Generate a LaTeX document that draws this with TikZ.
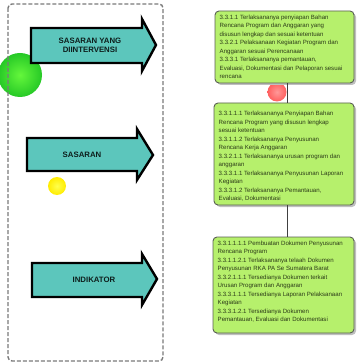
\documentclass[tikz,border=0pt]{standalone}
\usepackage{fontspec}
\setmainfont{Liberation Sans}
\usetikzlibrary{calc}
\definecolor{teal}{HTML}{5CC6BC}
\definecolor{lime}{HTML}{B6F06C}
\definecolor{limeedge}{HTML}{5A5F55}
\definecolor{boxtext}{HTML}{2B3A18}
\definecolor{dashgray}{HTML}{7A7A7A}
\tikzset{
  frame/.style={draw=dashgray, line width=1.4pt, dash pattern=on 4pt off 2pt, rounded corners=4pt},
  bigarrow/.style={draw=black, line width=2.4pt, fill=teal, line join=miter},
  arrowlabel/.style={font=\fontsize{7.8pt}{9.2pt}\selectfont\bfseries, text=black!85!teal, align=center},
  infobox/.style={draw=limeedge, line width=0.9pt, fill=lime, rounded corners=4pt},
  infoshadow/.style={fill=black!25, rounded corners=4pt},
  infotext/.style={font=\fontsize{6.1pt}{8.5pt}\selectfont, text=boxtext, align=left, anchor=north west, inner sep=0pt},
  link/.style={draw=black!75, line width=0.9pt}
}
\begin{document}
\begin{tikzpicture}[x=1pt, y=-1pt]
\useasboundingbox (0,0) rectangle (358,363);

% decorative blobs
\shade[inner color=green!45!lime, outer color=green!75!black!85] (20,75) circle (22);
\shade[inner color=yellow!70, outer color=yellow!85!orange] (57,186) circle (9);
\shade[inner color=red!30!pink, outer color=red!65!pink, opacity=0.85] (277,92) circle (9.5);

% dashed frame on the left
\draw[frame] (8,4) rectangle (163,361);

% the three arrows
\draw[bigarrow] (31,28) -- (142,28) -- (142,19) -- (156,45) -- (142,71) -- (142,63) -- (31,63) -- cycle;
\node[arrowlabel] (a1) at (90,45.5) {SASARAN YANG\\DIINTERVENSI};

\draw[bigarrow] (27,138) -- (137,138) -- (137,129) -- (153,155) -- (137,180) -- (137,171) -- (27,171) -- cycle;
\node[arrowlabel] (a2) at (82,155) {SASARAN};

\draw[bigarrow] (32,263) -- (142,263) -- (142,254) -- (157,279) -- (142,305) -- (142,297) -- (32,297) -- cycle;
\node[arrowlabel] (a3) at (94,279.5) {INDIKATOR};

% right column boxes
\fill[infoshadow] (217,13) rectangle (356,85);
\draw[infobox] (215,11) rectangle (354,83);
\coordinate (b1) at (287,83);
\node[infotext] (t1) at (219.5,14.5) {3.3.1.1 Terlaksananya penyiapan Bahan\\Rencana Program dan Anggaran yang\\disusun lengkap dan sesuai ketentuan\\3.3.2.1 Pelaksanaan Kegiatan Program dan\\Anggaran sesuai Perencanaan\\3.3.3.1 Terlaksananya pemantauan,\\Evaluasi, Dokumentasi dan Pelaporan sesuai\\rencana};

\fill[infoshadow] (216,105) rectangle (356,207);
\draw[infobox] (214,103) rectangle (354,205);
\coordinate (b2top) at (287,103);
\coordinate (b2) at (287,205);
\node[infotext] (t2) at (218.5,111) {3.3.1.1.1 Terlaksananya Penyiapan Bahan\\Rencana Program yang disusun lengkap\\sesuai ketentuan\\3.3.1.1.2 Terlaksananya Penyusunan\\Rencana Kerja Anggaran\\3.3.2.1.1 Terlaksananya urusan program dan\\anggaran\\3.3.3.1.1 Terlaksananya Penyusunan Laporan\\Kegiatan\\3.3.3.1.2 Terlaksananya Pemantauan,\\Evaluasi, Dokumentasi};

\fill[infoshadow] (215,239) rectangle (356,335);
\draw[infobox] (213,237) rectangle (354,333);
\coordinate (b3top) at (287,237);
\node[infotext] (t3) at (217.5,240.5) {3.3.1.1.1.1 Pembuatan Dokumen Penyusunan\\Rencana Program\\3.3.1.1.2.1 Terlaksananya telaah Dokumen\\Penyusunan RKA PA Se Sumatera Barat\\3.3.2.1.1.1 Tersedianya Dokumen terkait\\Urusan Program dan Anggaran\\3.3.3.1.1.1 Tersedianya Laporan Pelaksanaan\\Kegiatan\\3.3.3.1.2.1 Tersedianya Dokumen\\Pemantauan, Evaluasi dan Dokumentasi};

% connectors between the boxes
\draw[link] (b1) -- (b2top);
\draw[link] (b2) -- (b3top);
\end{tikzpicture}
\end{document}
